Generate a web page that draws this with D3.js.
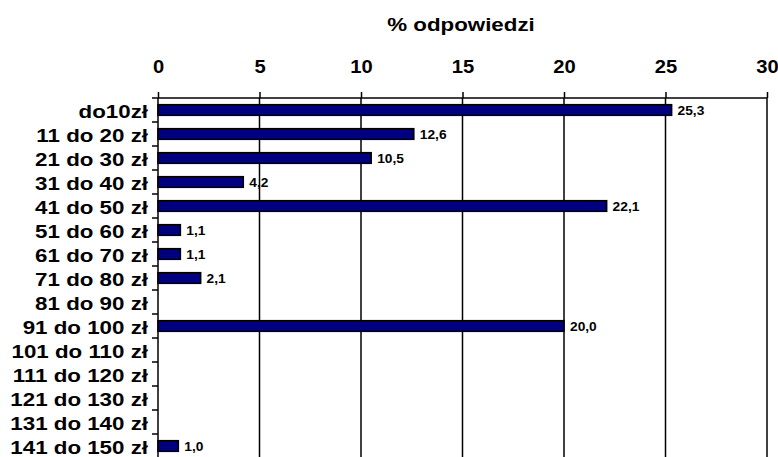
<!DOCTYPE html>
<html>
<head>
<meta charset="utf-8">
<script src="https://cdn.jsdelivr.net/npm/d3@7"></script>
<style>
  body { margin: 0; background: #fff; }
  svg { display: block; font-family: Arial, "Liberation Sans", sans-serif; }
</style>
</head>
<body>
<svg id="chart" width="778" height="457"></svg>
<script>
  // Data
  const categories = ["do10zł", "11 do 20 zł", "21 do 30 zł", "31 do 40 zł", "41 do 50 zł",
    "51 do 60 zł", "61 do 70 zł", "71 do 80 zł", "81 do 90 zł", "91 do 100 zł",
    "101 do 110 zł", "111 do 120 zł", "121 do 130 zł", "131 do 140 zł", "141 do 150 zł"];
  const values = [25.3, 12.6, 10.5, 4.2, 22.1, 1.1, 1.1, 2.1, null, 20.0, null, null, null, null, 1.0];
  const xTicks = [0, 5, 10, 15, 20, 25, 30];
  const axisTitle = "% odpowiedzi";

  const svg = d3.select("#chart");
  const plot = { left: 158, right: 767, top: 98, bottom: 458 };
  const FONT = "Arial, 'Liberation Sans', sans-serif";

  // the original text looks wider than plain Arial, stretch it a bit
  function stretch(sel, factor, mode) {
    sel.each(function () {
      const w = this.getComputedTextLength();
      d3.select(this).attr("textLength", w * factor).attr("lengthAdjust", mode || "spacingAndGlyphs");
    });
  }

  const x = d3.scaleLinear().domain([0, 30]).range([plot.left, plot.right]);
  const y = d3.scaleBand().domain(categories).range([plot.top, plot.bottom]).paddingInner(0.56).paddingOuter(0.28);
  const yb = d3.scaleBand().domain(categories).range([plot.top, plot.bottom]);

  // Gridlines
  svg.append("g")
    .selectAll("line")
    .data(xTicks.slice(1))
    .join("line")
    .attr("x1", d => x(d)).attr("x2", d => x(d))
    .attr("y1", plot.top).attr("y2", 457)
    .attr("stroke", "#000").attr("stroke-width", 1.5);

  // Bars
  const rows = categories.map((c, i) => ({ cat: c, v: values[i] })).filter(d => d.v != null);
  svg.append("g")
    .selectAll("rect")
    .data(rows)
    .join("rect")
    .attr("x", x(0))
    .attr("y", d => y(d.cat))
    .attr("width", d => x(d.v) - x(0))
    .attr("height", y.bandwidth())
    .attr("fill", "#000080")
    .attr("stroke", "#000")
    .attr("stroke-width", 1.6);

  // Value labels
  const valLabels = svg.append("g")
    .selectAll("text")
    .data(rows)
    .join("text")
    .attr("x", d => x(d.v) + 6)
    .attr("y", d => y(d.cat) + y.bandwidth() / 2)
    .attr("dy", "0.38em")
    .attr("font-size", 12.5)
    .attr("font-weight", "bold")
    .text(d => d3.format(".1f")(d.v).replace(".", ","));
  stretch(valLabels, 1.1);

  // Top axis
  const xAxis = svg.append("g")
    .attr("transform", `translate(0,${plot.top})`)
    .call(d3.axisTop(x).tickValues(xTicks).tickSize(6).tickPadding(19));
  xAxis.select(".domain").attr("stroke-width", 1.5).attr("d", `M${plot.left},0H${plot.right}`);
  xAxis.selectAll(".tick line").attr("stroke-width", 1.5);
  xAxis.selectAll("text")
    .attr("font-size", 18).attr("font-weight", "bold")
    .attr("font-family", FONT).attr("fill", "#000");
  stretch(xAxis.selectAll("text"), 1.12);

  // Left axis
  const yAxis = svg.append("g")
    .attr("transform", `translate(${plot.left},0)`)
    .call(d3.axisLeft(yb).tickSize(0).tickPadding(10));
  yAxis.select(".domain").attr("stroke-width", 1.5).attr("d", `M0,${plot.top}V457`);
  yAxis.selectAll("text")
    .attr("font-size", 18).attr("font-weight", "bold").attr("dy", "0.42em")
    .attr("font-family", FONT).attr("fill", "#000");
  stretch(yAxis.selectAll("text"), 1.24);

  // band boundary ticks
  svg.append("g")
    .selectAll("line")
    .data(categories)
    .join("line")
    .attr("x1", plot.left - 6).attr("x2", plot.left)
    .attr("y1", d => yb(d)).attr("y2", d => yb(d))
    .attr("stroke", "#000").attr("stroke-width", 1.5);

  // Axis title
  const title = svg.append("text")
    .attr("x", 461)
    .attr("y", 31)
    .attr("text-anchor", "middle")
    .attr("font-size", 18)
    .attr("font-weight", "bold")
    .text(axisTitle);
  stretch(title, 1.24);
</script>
</body>
</html>
